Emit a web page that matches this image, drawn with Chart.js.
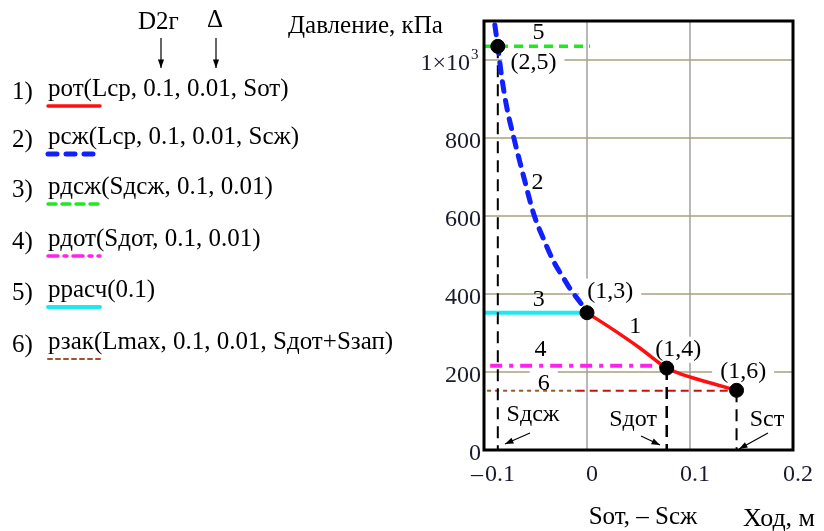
<!DOCTYPE html>
<html>
<head>
<meta charset="utf-8">
<script src="https://cdn.jsdelivr.net/npm/chart.js@4/dist/chart.umd.min.js"></script>
<style>
  body { margin: 0; background: #fff; }
  canvas { display: block; }
</style>
</head>
<body>
<canvas id="pressureChart" width="824" height="531"></canvas>
<script>
// тики осей
const xTicks = [-0.1, 0, 0.1, 0.2];
const yTicks = [0, 200, 400, 600, 800, 1000];

// 1) рот — открытие (красная)
const otX = [0, 0.0258, 0.0516, 0.0774, 0.09, 0.1065, 0.125, 0.1452];
const otY = [352, 308, 261, 210, 196, 182, 168, 153];

// 2) рсж — сжатие (синяя пунктирная)
const szhX = [-0.0895, -0.0866, -0.083, -0.078, -0.071, -0.0614, -0.0517, -0.042, -0.0323, -0.0226, -0.0161, -0.0048, 0];
const szhY = [1090, 1035, 960, 880, 800, 700, 605, 540, 483, 440, 412, 372, 352];

// горизонтальные уровни
const dszhX = [-0.1, 0.003];    const dszhY = [1035, 1035];   // зелёная
const raschX = [-0.1, 0];       const raschY = [352, 352];    // голубая
const dotX = [-0.094, 0.074];   const dotY = [216, 216];      // розовая
const zakX = [-0.097, -0.01];   const zakY = [152, 152];      // коричневая
const zak2X = [-0.01, 0.143];   const zak2Y = [152, 152];     // красная штриховая

// вертикальные отметки Sдсж, Sдот, Sст
const sdszhX = [-0.0866, -0.0866]; const sdszhY = [1035, 0];
const sdotX = [0.0774, 0.0774];    const sdotY = [210, 0];
const sstX = [0.1452, 0.1452];     const sstY = [153, 0];

// точки пересечения
const ptX = [-0.0866, 0, 0.0774, 0.1452];
const ptY = [1035, 352, 210, 153];

// подписи на графике (в координатах данных)
const marks = [
  { t: '5', x: -0.047, y: 1071, bg: false },
  { t: '(2,5)', x: -0.052, y: 994, bg: true },
  { t: '2', x: -0.048, y: 685, bg: false },
  { t: '(1,3)', x: 0.0226, y: 406, bg: true },
  { t: '3', x: -0.0468, y: 385, bg: false },
  { t: '1', x: 0.0468, y: 317, bg: false },
  { t: '4', x: -0.0452, y: 257, bg: false },
  { t: '(1,4)', x: 0.0887, y: 257, bg: true },
  { t: '(1,6)', x: 0.1516, y: 201, bg: true },
  { t: '6', x: -0.042, y: 171, bg: true }
];

const SERIF = '"Liberation Serif", "Times New Roman", serif';

function pts(xs, ys) {
  return xs.map((x, i) => ({ x: x, y: ys[i] }));
}

function line(xs, ys, color, width, dash, extra) {
  return Object.assign({
    data: pts(xs, ys),
    borderColor: color,
    borderWidth: width,
    borderDash: dash,
    pointRadius: 0,
    fill: false,
    tension: 0
  }, extra || {});
}

function arrow(c, x1, y1, x2, y2) {
  c.save();
  c.strokeStyle = '#000';
  c.fillStyle = '#000';
  c.lineWidth = 1.2;
  c.setLineDash([]);
  c.beginPath();
  c.moveTo(x1, y1);
  c.lineTo(x2, y2);
  c.stroke();
  const ang = Math.atan2(y2 - y1, x2 - x1);
  c.beginPath();
  c.moveTo(x2, y2);
  c.lineTo(x2 - 9 * Math.cos(ang - 0.35), y2 - 9 * Math.sin(ang - 0.35));
  c.lineTo(x2 - 9 * Math.cos(ang + 0.35), y2 - 9 * Math.sin(ang + 0.35));
  c.closePath();
  c.fill();
  c.restore();
}

const frameAndText = {
  id: 'frameAndText',
  beforeDatasetsDraw(chart) {
    const c = chart.ctx, xs = chart.scales.x, ys = chart.scales.y, a = chart.chartArea;
    c.save();
    // сетка
    c.lineWidth = 1.5;
    c.strokeStyle = '#a0a0a0';
    xTicks.forEach(v => {
      const px = Math.round(xs.getPixelForValue(v));
      c.beginPath(); c.moveTo(px, a.top); c.lineTo(px, a.bottom); c.stroke();
    });
    c.strokeStyle = '#a6a27e';
    yTicks.forEach(v => {
      const py = Math.round(ys.getPixelForValue(v));
      c.beginPath(); c.moveTo(a.left, py); c.lineTo(a.right, py); c.stroke();
    });
    // фон под подписями
    c.font = '24px ' + SERIF;
    c.fillStyle = '#fff';
    marks.forEach(m => {
      if (!m.bg) return;
      const w = c.measureText(m.t).width;
      const px = xs.getPixelForValue(m.x), py = ys.getPixelForValue(m.y);
      c.fillRect(px - w / 2 - 8, py - 13, w + 16, 26);
    });
    c.restore();
  },
  afterDatasetsDraw(chart) {
    const c = chart.ctx, xs = chart.scales.x, ys = chart.scales.y, a = chart.chartArea;
    c.save();
    c.fillStyle = '#000';
    c.textAlign = 'center';
    c.textBaseline = 'middle';
    c.font = '24px ' + SERIF;
    marks.forEach(m => {
      c.fillText(m.t, xs.getPixelForValue(m.x), ys.getPixelForValue(m.y));
    });

    // рамка
    c.strokeStyle = '#000';
    c.lineWidth = 3;
    c.setLineDash([]);
    c.strokeRect(a.left, a.top, a.right - a.left, a.bottom - a.top);

    // подписи S и стрелки
    c.font = '24px ' + SERIF;
    c.fillText('Sдсж', 533, 415);
    c.fillText('Sдот', 633, 420);
    c.fillText('Sст', 767, 420);
    arrow(c, 530, 433, 505, 444);
    arrow(c, 641, 436, 660, 445);
    arrow(c, 768, 433, 739, 449);
    c.restore();
  },
  afterDraw(chart) {
    const c = chart.ctx, xs = chart.scales.x, ys = chart.scales.y;
    c.save();
    c.fillStyle = '#1a1a2e';
    c.font = '24px ' + SERIF;
    c.textBaseline = 'middle';
    // подписи оси Y
    c.textAlign = 'right';
    yTicks.forEach(v => {
      const py = ys.getPixelForValue(v) + 4;
      if (v === 1000) {
        c.fillText('1×10', 470, py);
        c.font = '15px ' + SERIF;
        c.textAlign = 'left';
        c.fillText('3', 471, py - 9);
        c.font = '24px ' + SERIF;
        c.textAlign = 'right';
      } else {
        c.fillText(String(v), 481, py);
      }
    });
    // подписи оси X
    c.textAlign = 'center';
    xTicks.forEach(v => {
      const px = xs.getPixelForValue(v);
      if (v < 0) {
        c.fillText('–', px - 7, 475);
        c.fillText(String(Math.abs(v)), px + 16, 475);
      } else {
        c.fillText(String(v), px + 5, 475);
      }
    });

    // заголовки осей
    c.fillStyle = '#000';
    c.font = '25px ' + SERIF;
    c.textAlign = 'left';
    c.fillText('Давление, кПа', 288, 26);
    c.textAlign = 'center';
    c.fillText('Sот, – Sсж', 643, 517);
    c.textAlign = 'left';
    c.font = '26px ' + SERIF;
    c.fillText('Ход, м', 743, 519);

    // легенда слева
    c.font = '25px ' + SERIF;
    c.fillText('D2г', 138, 22);
    c.fillText('Δ', 207, 20);
    arrow(c, 161, 38, 161, 68);
    arrow(c, 216, 38, 216, 68);

    const rows = [
      { n: '1)', t: 'рот(Lср, 0.1, 0.01, Sот)', y: 92, col: '#ff1010', w: 3.5, dash: [] },
      { n: '2)', t: 'рсж(Lср, 0.1, 0.01, Sсж)', y: 140, col: '#1020ff', w: 5, dash: [9, 9] },
      { n: '3)', t: 'рдсж(Sдсж, 0.1, 0.01)', y: 190, col: '#22e822', w: 3.5, dash: [8, 6] },
      { n: '4)', t: 'рдот(Sдот, 0.1, 0.01)', y: 242, col: '#ff22ee', w: 3.5, dash: [10, 6, 3, 6] },
      { n: '5)', t: 'ррасч(0.1)', y: 293, col: '#1ee8f0', w: 4, dash: [] },
      { n: '6)', t: 'рзак(Lmax, 0.1, 0.01, Sдот+Sзап)', y: 345, col: '#a0522d', w: 2, dash: [4, 4] }
    ];
    rows.forEach(r => {
      c.fillStyle = '#000';
      c.font = '25px ' + SERIF;
      c.textAlign = 'left';
      c.fillText(r.n, 12, r.y);
      c.fillText(r.t, 48, r.y - 3);
      c.strokeStyle = r.col;
      c.lineWidth = r.w;
      c.lineCap = 'round';
      c.setLineDash(r.dash);
      c.beginPath();
      c.moveTo(48, r.y + 14);
      c.lineTo(100, r.y + 14);
      c.stroke();
    });
    c.restore();
  }
};

const ctx = document.getElementById('pressureChart').getContext('2d');

// первый набор рисуется поверх остальных
new Chart(ctx, {
  type: 'line',
  data: {
    datasets: [
      {
        data: pts(ptX, ptY),
        showLine: false,
        pointRadius: 7,
        pointBackgroundColor: '#000',
        pointBorderColor: '#000'
      },
      line(otX, otY, '#ff1010', 3.5, [], { cubicInterpolationMode: 'monotone' }),
      line(szhX, szhY, '#1020ff', 5, [10, 9], { borderCapStyle: 'round', cubicInterpolationMode: 'monotone' }),
      line(sdszhX, sdszhY, '#000', 2, [12, 7]),
      line(sdotX, sdotY, '#000', 2.5, [12, 7]),
      line(sstX, sstY, '#000', 2, [12, 7]),
      line(dotX, dotY, '#ff22ee', 4, [12, 7, 4, 7]),
      line(raschX, raschY, '#1ee8f0', 4, []),
      line(dszhX, dszhY, '#22e822', 3.5, [9, 6]),
      line(zak2X, zak2Y, '#cc1010', 2, [8, 5]),
      line(zakX, zakY, '#a0522d', 2, [4, 4])
    ]
  },
  options: {
    responsive: false,
    animation: false,
    devicePixelRatio: 1,
    layout: { padding: { left: 484, right: 31, top: 21, bottom: 81 } },
    plugins: {
      legend: { display: false },
      tooltip: { enabled: false }
    },
    scales: {
      x: {
        type: 'linear',
        min: -0.1,
        max: 0.2,
        afterFit: s => { s.height = 0; },
        grid: { display: false },
        border: { display: false },
        ticks: { display: false }
      },
      y: {
        type: 'linear',
        min: 0,
        max: 1100,
        afterFit: s => { s.width = 0; },
        grid: { display: false },
        border: { display: false },
        ticks: { display: false }
      }
    }
  },
  plugins: [frameAndText]
});
</script>
</body>
</html>
